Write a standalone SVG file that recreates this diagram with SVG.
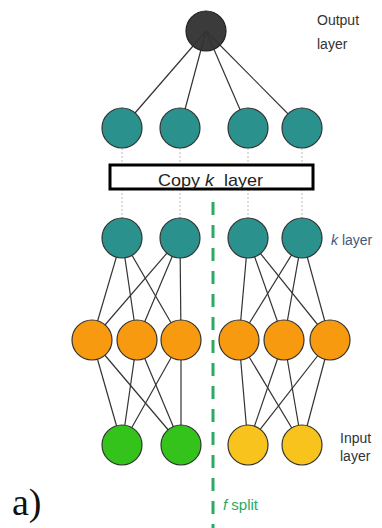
<svg xmlns="http://www.w3.org/2000/svg" width="382" height="528" viewBox="0 0 382 528">
<style>
.e{stroke:#333;stroke-width:1.2;fill:none}
.d{stroke:#bbb;stroke-width:1;stroke-dasharray:2 2;fill:none}
.n{stroke:#333;stroke-width:1.2}
.teal{fill:#2a918c}
.org{fill:#f79a0f}
.grn{fill:#33c31b}
.yel{fill:#f8c31c}
.lbl{font-family:"Liberation Sans","Open Sans",sans-serif;font-size:14px;fill:#333}
</style>
<rect width="382" height="528" fill="#fff"/>
<g id="out"><circle cx="206" cy="31" r="20" fill="#3b3b3b" stroke="#222" stroke-width="1.2"/></g>
<g id="connectors">
<line class="e" x1="206" y1="31" x2="122" y2="128"/>
<line class="e" x1="206" y1="31" x2="180" y2="128"/>
<line class="e" x1="206" y1="31" x2="248" y2="128"/>
<line class="e" x1="206" y1="31" x2="302" y2="128"/>
<line class="d" x1="122" y1="148" x2="122" y2="165"/>
<line class="d" x1="180" y1="148" x2="180" y2="165"/>
<line class="d" x1="248" y1="148" x2="248" y2="165"/>
<line class="d" x1="302" y1="148" x2="302" y2="165"/>
<line class="d" x1="122" y1="189" x2="122" y2="218"/>
<line class="d" x1="180" y1="189" x2="180" y2="218"/>
<line class="d" x1="248" y1="189" x2="248" y2="218"/>
<line class="d" x1="302" y1="189" x2="302" y2="218"/>
<line class="e" x1="122" y1="238" x2="92" y2="340"/>
<line class="e" x1="122" y1="238" x2="137" y2="340"/>
<line class="e" x1="122" y1="238" x2="181" y2="340"/>
<line class="e" x1="180" y1="238" x2="92" y2="340"/>
<line class="e" x1="180" y1="238" x2="137" y2="340"/>
<line class="e" x1="180" y1="238" x2="181" y2="340"/>
<line class="e" x1="248" y1="238" x2="239" y2="340"/>
<line class="e" x1="248" y1="238" x2="284" y2="340"/>
<line class="e" x1="248" y1="238" x2="330" y2="340"/>
<line class="e" x1="302" y1="238" x2="239" y2="340"/>
<line class="e" x1="302" y1="238" x2="284" y2="340"/>
<line class="e" x1="302" y1="238" x2="330" y2="340"/>
<line class="e" x1="92" y1="340" x2="122" y2="445"/>
<line class="e" x1="92" y1="340" x2="181" y2="445"/>
<line class="e" x1="137" y1="340" x2="122" y2="445"/>
<line class="e" x1="137" y1="340" x2="181" y2="445"/>
<line class="e" x1="181" y1="340" x2="122" y2="445"/>
<line class="e" x1="181" y1="340" x2="181" y2="445"/>
<line class="e" x1="239" y1="340" x2="248" y2="445"/>
<line class="e" x1="239" y1="340" x2="302" y2="445"/>
<line class="e" x1="284" y1="340" x2="248" y2="445"/>
<line class="e" x1="284" y1="340" x2="302" y2="445"/>
<line class="e" x1="330" y1="340" x2="248" y2="445"/>
<line class="e" x1="330" y1="340" x2="302" y2="445"/>
</g>
<g id="top1"><circle class="n teal" cx="122" cy="128" r="20"/></g>
<g id="top2"><circle class="n teal" cx="180" cy="128" r="20"/></g>
<g id="top3"><circle class="n teal" cx="248" cy="128" r="20"/></g>
<g id="top4"><circle class="n teal" cx="302" cy="128" r="20"/></g>
<g id="copy">
<rect x="110" y="165" width="203" height="24" fill="#fff" stroke="#000" stroke-width="3"/>
<text x="158" y="186" xml:space="preserve" textLength="105" lengthAdjust="spacingAndGlyphs" font-family="'Liberation Sans','Open Sans',sans-serif" font-size="17" fill="#222">Copy <tspan font-style="italic">k</tspan>  layer</text>
</g>
<g id="k1"><circle class="n teal" cx="122" cy="238" r="20"/></g>
<g id="k2"><circle class="n teal" cx="180" cy="238" r="20"/></g>
<g id="k3"><circle class="n teal" cx="248" cy="238" r="20"/></g>
<g id="k4"><circle class="n teal" cx="302" cy="238" r="20"/></g>
<g id="h1"><circle class="n org" cx="92" cy="340" r="20"/></g>
<g id="h2"><circle class="n org" cx="137" cy="340" r="20"/></g>
<g id="h3"><circle class="n org" cx="181" cy="340" r="20"/></g>
<g id="h4"><circle class="n org" cx="239" cy="340" r="20"/></g>
<g id="h5"><circle class="n org" cx="284" cy="340" r="20"/></g>
<g id="h6"><circle class="n org" cx="330" cy="340" r="20"/></g>
<g id="i1"><circle class="n grn" cx="122" cy="445" r="20"/></g>
<g id="i2"><circle class="n grn" cx="181" cy="445" r="20"/></g>
<g id="i3"><circle class="n yel" cx="248" cy="445" r="20"/></g>
<g id="i4"><circle class="n yel" cx="302" cy="445" r="20"/></g>
<g id="split">
<line x1="213" y1="202" x2="213" y2="528" stroke="#2aaa62" stroke-width="3" stroke-dasharray="13 10"/>
<text x="223" y="510" font-family="'Liberation Sans','Open Sans',sans-serif" font-size="15" fill="#2aaa62"><tspan font-style="italic">f</tspan> split</text>
</g>
<g id="labels">
<text class="lbl" x="317" y="25">Output</text>
<text class="lbl" x="317" y="49">layer</text>
<text x="331" y="245" font-family="'Liberation Sans','Open Sans',sans-serif" font-size="14" fill="#46597a"><tspan font-style="italic">k</tspan> layer</text>
<text class="lbl" x="340" y="443">Input</text>
<text class="lbl" x="340" y="461">layer</text>
<text x="12" y="515" font-family="'Liberation Serif',serif" font-size="38" fill="#111">a)</text>
</g>
</svg>
